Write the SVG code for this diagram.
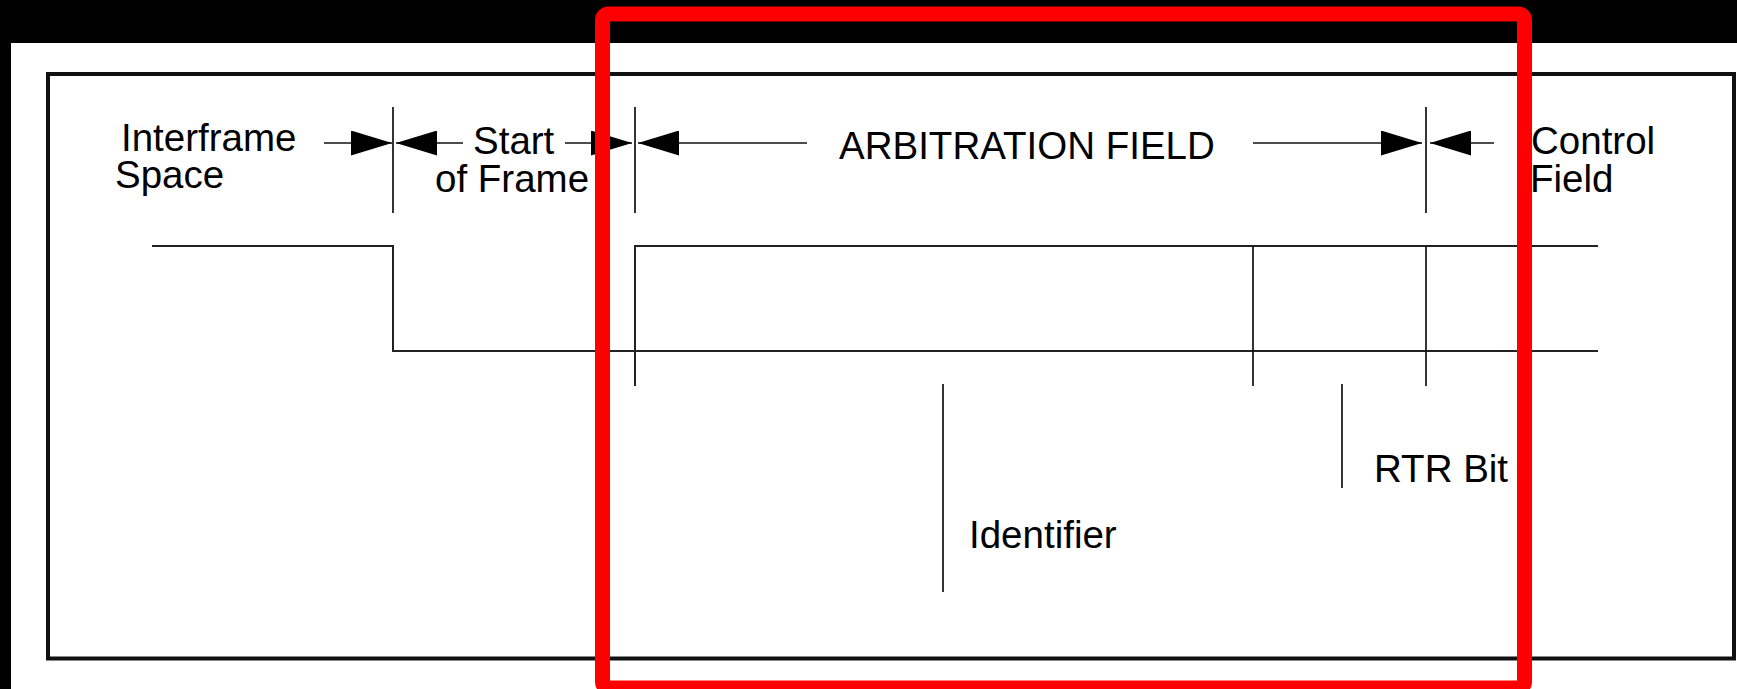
<svg xmlns="http://www.w3.org/2000/svg" width="1737" height="689" viewBox="0 0 1737 689">
  <style>
    .lbl { font-family: "Liberation Sans", Arial, sans-serif; font-size: 38.5px; fill: #000; }
    .frame { fill: none; stroke: #111; stroke-width: 4; }
    .sig { fill: none; stroke: #222; stroke-width: 2; }
    .mark { fill: none; stroke: #111; stroke-width: 1.7; }
    .dim { fill: none; stroke: #111; stroke-width: 1.7; marker-end: url(#head); }
    .hl { fill: none; stroke: #ff0000; stroke-width: 15; }
  </style>
  <defs>
    <marker id="head" viewBox="0 0 41 25" refX="41" refY="12.5" markerWidth="41" markerHeight="25" markerUnits="userSpaceOnUse" orient="auto">
      <polygon points="0,0 41,12.5 0,25" fill="#000"/>
    </marker>
  </defs>

  <!-- page and surrounding margins -->
  <rect x="0" y="0" width="1737" height="689" fill="#fff"/>
  <rect x="0" y="0" width="1737" height="43" fill="#000"/>
  <rect x="0" y="0" width="11" height="689" fill="#000"/>

  <!-- outer frame -->
  <rect class="frame" x="48" y="74" width="1686" height="584.5"/>

  <!-- field labels -->
  <g id="interframe-space">
    <text class="lbl" x="121" y="151">Interframe</text>
    <text class="lbl" x="115" y="188">Space</text>
  </g>
  <g id="start-of-frame">
    <text class="lbl" x="473" y="154">Start</text>
    <text class="lbl" x="435" y="192">of Frame</text>
  </g>
  <g id="arbitration-field">
    <text class="lbl" x="839" y="159">ARBITRATION FIELD</text>
  </g>
  <g id="control-field">
    <text class="lbl" x="1531" y="154">Control</text>
    <text class="lbl" x="1530" y="192">Field</text>
  </g>
  <g id="identifier">
    <text class="lbl" x="969" y="548">Identifier</text>
  </g>
  <g id="rtr-bit">
    <text class="lbl" x="1374" y="482">RTR Bit</text>
  </g>

  <g id="connectors">
    <!-- field boundaries -->
    <line class="mark" x1="393" y1="107" x2="393" y2="213"/>
    <line class="mark" x1="635" y1="107" x2="635" y2="213"/>
    <line class="mark" x1="1426" y1="107" x2="1426" y2="213"/>

    <!-- dimension arrows -->
    <line class="dim" x1="324" y1="143" x2="392" y2="143"/>
    <line class="dim" x1="463" y1="143" x2="396" y2="143"/>
    <line class="dim" x1="565" y1="143" x2="632" y2="143"/>
    <line class="dim" x1="807" y1="143" x2="638" y2="143"/>
    <line class="dim" x1="1253" y1="143" x2="1422" y2="143"/>
    <line class="dim" x1="1494" y1="143" x2="1430" y2="143"/>

    <!-- bus levels -->
    <polyline class="sig" points="152,246 393,246 393,351 1598,351"/>
    <polyline class="sig" points="635,386 635,246 1598,246"/>
    <line class="mark" x1="1253" y1="246" x2="1253" y2="386"/>
    <line class="mark" x1="1426" y1="246" x2="1426" y2="386"/>

    <!-- label leaders -->
    <line class="mark" x1="943" y1="384" x2="943" y2="592"/>
    <line class="mark" x1="1342" y1="384" x2="1342" y2="488"/>
  </g>

  <!-- highlight outline -->
  <rect class="hl" x="602.5" y="14" width="922" height="674" rx="6"/>
</svg>
